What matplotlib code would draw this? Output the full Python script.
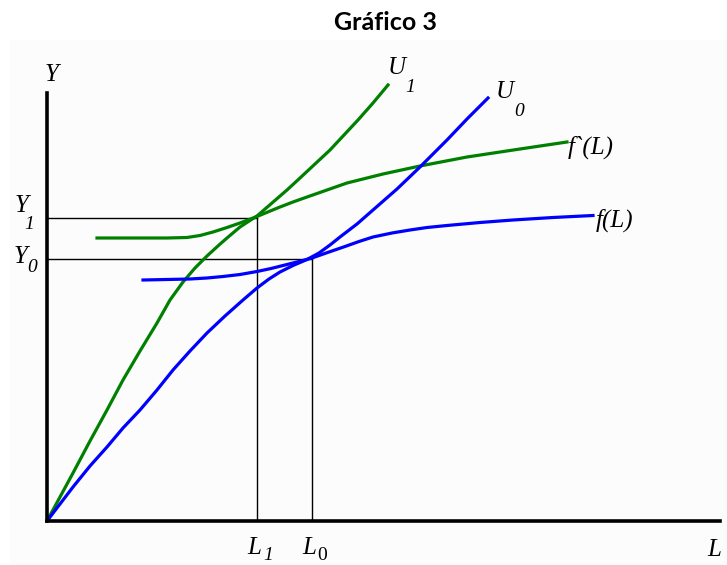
import matplotlib
matplotlib.use("Agg")
import matplotlib.pyplot as plt
from matplotlib.patches import Rectangle

# curve points (L, Y)
u1_L = [0, 13, 26, 43, 60, 76, 93, 110, 123, 136, 148, 160, 172, 180, 193, 206,
        210, 225, 240, 253, 268, 283, 297, 311, 326, 341]
u1_Y = [0, 24, 48, 80, 111, 141, 170, 198, 221, 239, 253, 265, 276, 283, 294, 302.5,
        305, 318, 331, 343, 357, 371, 386, 401, 418, 436]

u0_L = [0, 13, 26, 43, 60, 76, 93, 110, 126, 143, 160, 178, 196, 210, 222, 233,
        246, 260, 272, 283, 293, 310, 326, 350, 373, 400, 420, 441]
u0_Y = [0, 17, 34, 55, 74, 93, 111, 131, 151, 170, 188, 205, 221, 233, 242, 249,
        255.5, 261.5, 268, 276, 284, 297, 311, 332, 354, 381, 402, 423]

fp_L = [50, 93, 120, 140, 153, 166, 180, 193, 210, 222, 233, 246, 260, 280, 300,
        336, 373, 420, 473, 520]
fp_Y = [283, 283, 283, 283.5, 285.5, 289, 293.5, 298, 304.5, 309.5, 314, 319, 324,
        331, 338, 347, 355, 364, 372, 379]

f_L = [96, 120, 143, 160, 176, 193, 210, 224, 238, 252, 265, 282, 298, 312, 326,
       345, 363, 380, 400, 433, 466, 506, 546]
f_Y = [241, 241.5, 242, 243, 244.5, 246.5, 249.5, 252.5, 256, 259.5, 263, 269, 274.5,
       279.5, 284, 288, 291, 293.5, 295.5, 298.5, 301, 303.5, 305.5]

L1, Y1 = 210, 303.5
L0, Y0 = 265, 262

fig = plt.figure(figsize=(7.27, 5.65), dpi=100, facecolor="white")
fig.patches.append(Rectangle((10 / 727, 0), 1, 1 - 40 / 565, transform=fig.transFigure,
                             color="#fcfcfc", zorder=-10))

ax = fig.add_axes([47 / 727, 44 / 565, 673 / 727, 481 / 565])
ax.patch.set_visible(False)
ax.set_xlim(0, 673)
ax.set_ylim(0, 481)

ax.spines['right'].set_visible(False)
ax.spines['top'].set_visible(False)
ax.spines['left'].set_linewidth(2.6)
ax.spines['bottom'].set_linewidth(2.6)
ax.spines['left'].set_bounds(0, 428)
ax.set_xticks([])
ax.set_yticks([])

# guide lines
ax.plot([0, L1], [Y1, Y1], color="black", lw=1.0)
ax.plot([L1, L1], [0, Y1], color="black", lw=1.0)
ax.plot([0, L0], [Y0, Y0], color="black", lw=1.0)
ax.plot([L0, L0], [0, Y0], color="black", lw=1.0)

ax.plot(u1_L, u1_Y, color="#008000", lw=2.3, clip_on=False)
ax.plot(fp_L, fp_Y, color="#008000", lw=2.3)
ax.plot(u0_L, u0_Y, color="#0000ff", lw=2.3)
ax.plot(f_L, f_Y, color="#0000ff", lw=2.3)

big = dict(family="Liberation Serif", style="italic", fontsize=18,
           ha="center", va="center", clip_on=False)
small = dict(family="Liberation Serif", style="italic", fontsize=14,
             ha="center", va="center", clip_on=False)

ax.text(5, 446, "Y", **big)
ax.text(350, 453, "U", **big)
ax.text(363, 434, "1", **small)
ax.text(458, 429, "U", **big)
ax.text(472, 410, "0", **small)
ax.text(521, 374, "f`(L)", **dict(big, ha="left"))
ax.text(549, 301, "f(L)", **dict(big, ha="left"))
ax.text(-25, 315, "Y", **big)
ax.text(-18, 297, "1", **small)
ax.text(-26, 264, "Y", **big)
ax.text(-15, 254, "0", **small)
ax.text(207, -26.5, "L", **big)
ax.text(221, -34, "1", **small)
ax.text(262.5, -26.5, "L", **big)
ax.text(275.5, -35, "0", **dict(small, style="normal"))
ax.text(667.5, -29, "L", **big)

fig.text(385 / 727, 1 - 22 / 565, "Gráfico 3", family="Lato", fontweight="bold",
         fontsize=18, ha="center", va="center")

fig.savefig("out.png", dpi=100)
